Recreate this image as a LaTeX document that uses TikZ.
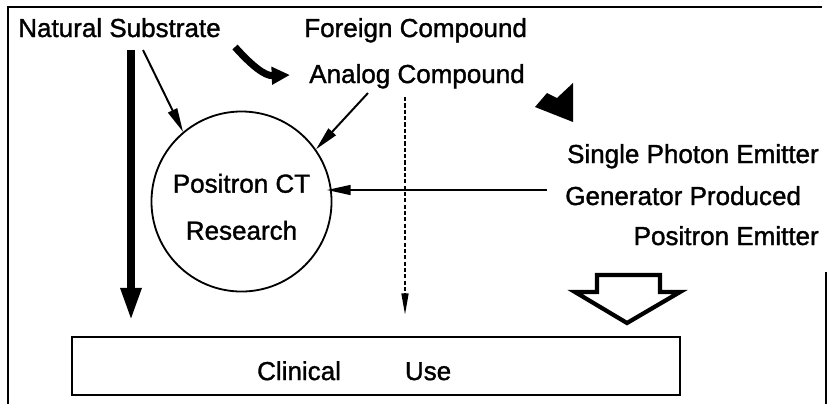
\documentclass[tikz,border=0pt]{standalone}
\usepackage{fontspec}
\setmainfont{Liberation Sans}[FakeBold=1.3]
\usetikzlibrary{arrows.meta,calc}

\begin{document}
\begin{tikzpicture}[x=0.025cm, y=-0.025cm,
  txt/.style={inner sep=0pt, font=\fontsize{18.5}{22}\selectfont},
  arrow/.style={-{Triangle[length=17pt, width=7pt]}, line width=1.4pt, draw=black},
  heavy/.style={-{Triangle[length=23pt, width=14pt]}, line width=5pt, draw=black},
  dasharrow/.style={-{Triangle[length=15pt, width=5pt]}, line width=1pt, dash pattern=on 3pt off 1.5pt, draw=black},
  hollow/.style={line width=3pt, line join=miter, draw=black, fill=white}
]
\useasboundingbox (0,0) rectangle (828,404);
% frame
\draw[line width=1.3pt] (8,404) -- (8,7) -- (822,7);
\draw[line width=1.3pt] (826,272) -- (826,404);

\node[txt, anchor=base west] (nat) at (18,37) {Natural Substrate};
\node[txt, anchor=base west] (foreign) at (304,37) {Foreign Compound};
\node[txt, anchor=base west] (analog) at (309,83) {Analog Compound};
\node[txt, anchor=base east] (spe) at (819,163) {Single Photon Emitter};
\node[txt, anchor=base west] (gen) at (565,205) {Generator Produced};
\node[txt, anchor=base east] (pe) at (819,245) {Positron Emitter};
\node[circle, draw, line width=1.3pt, minimum size=4.5cm, align=center, font=\fontsize{18.5}{33.4}\selectfont] (pct) at (241.5,201.5) {\rule{0pt}{21pt}Positron CT\\Research};
\node[draw, line width=2pt, minimum width=15.2cm, minimum height=1.45cm, text height=20pt, text depth=0pt, font=\fontsize{18.5}{22}\selectfont] (clin) at (376,366) {Clinical\hspace{45.5pt}Use\hspace*{31pt}};

% free ends
\coordinate (natfoot) at (131,50);
\coordinate (natside) at (143,50);
\coordinate (anfoot) at (368,93);
\coordinate (anline) at (405,97);
\coordinate (emit) at (547,190);

\draw[heavy, shorten >=11pt] (natfoot) -- (natfoot |- clin.north);
\draw[arrow] (natside) -- (pct.130);
\draw[arrow] (anfoot) -- (pct.35);
\draw[dasharrow, shorten >=15pt] (anline) -- (anline |- clin.north);
\draw[arrow, shorten >=-4pt] (emit) -- (pct.east |- emit);

% foreign -> analog
\draw[-{Triangle[length=13pt, width=12pt]}, line width=5pt] (235,47) .. controls (252,66) and (265,76) .. (290,75);
% black arrow head
\fill (535,107) -- (547,93) -- (557,98) -- (573,83) -- (573,122) -- cycle;
% hollow arrow to clinical use
\draw[hollow] (597,275) -- (660,275) -- (660,292) -- (680,292) -- (627,323) -- (575,292) -- (597,292) -- cycle;
\end{tikzpicture}
\end{document}
